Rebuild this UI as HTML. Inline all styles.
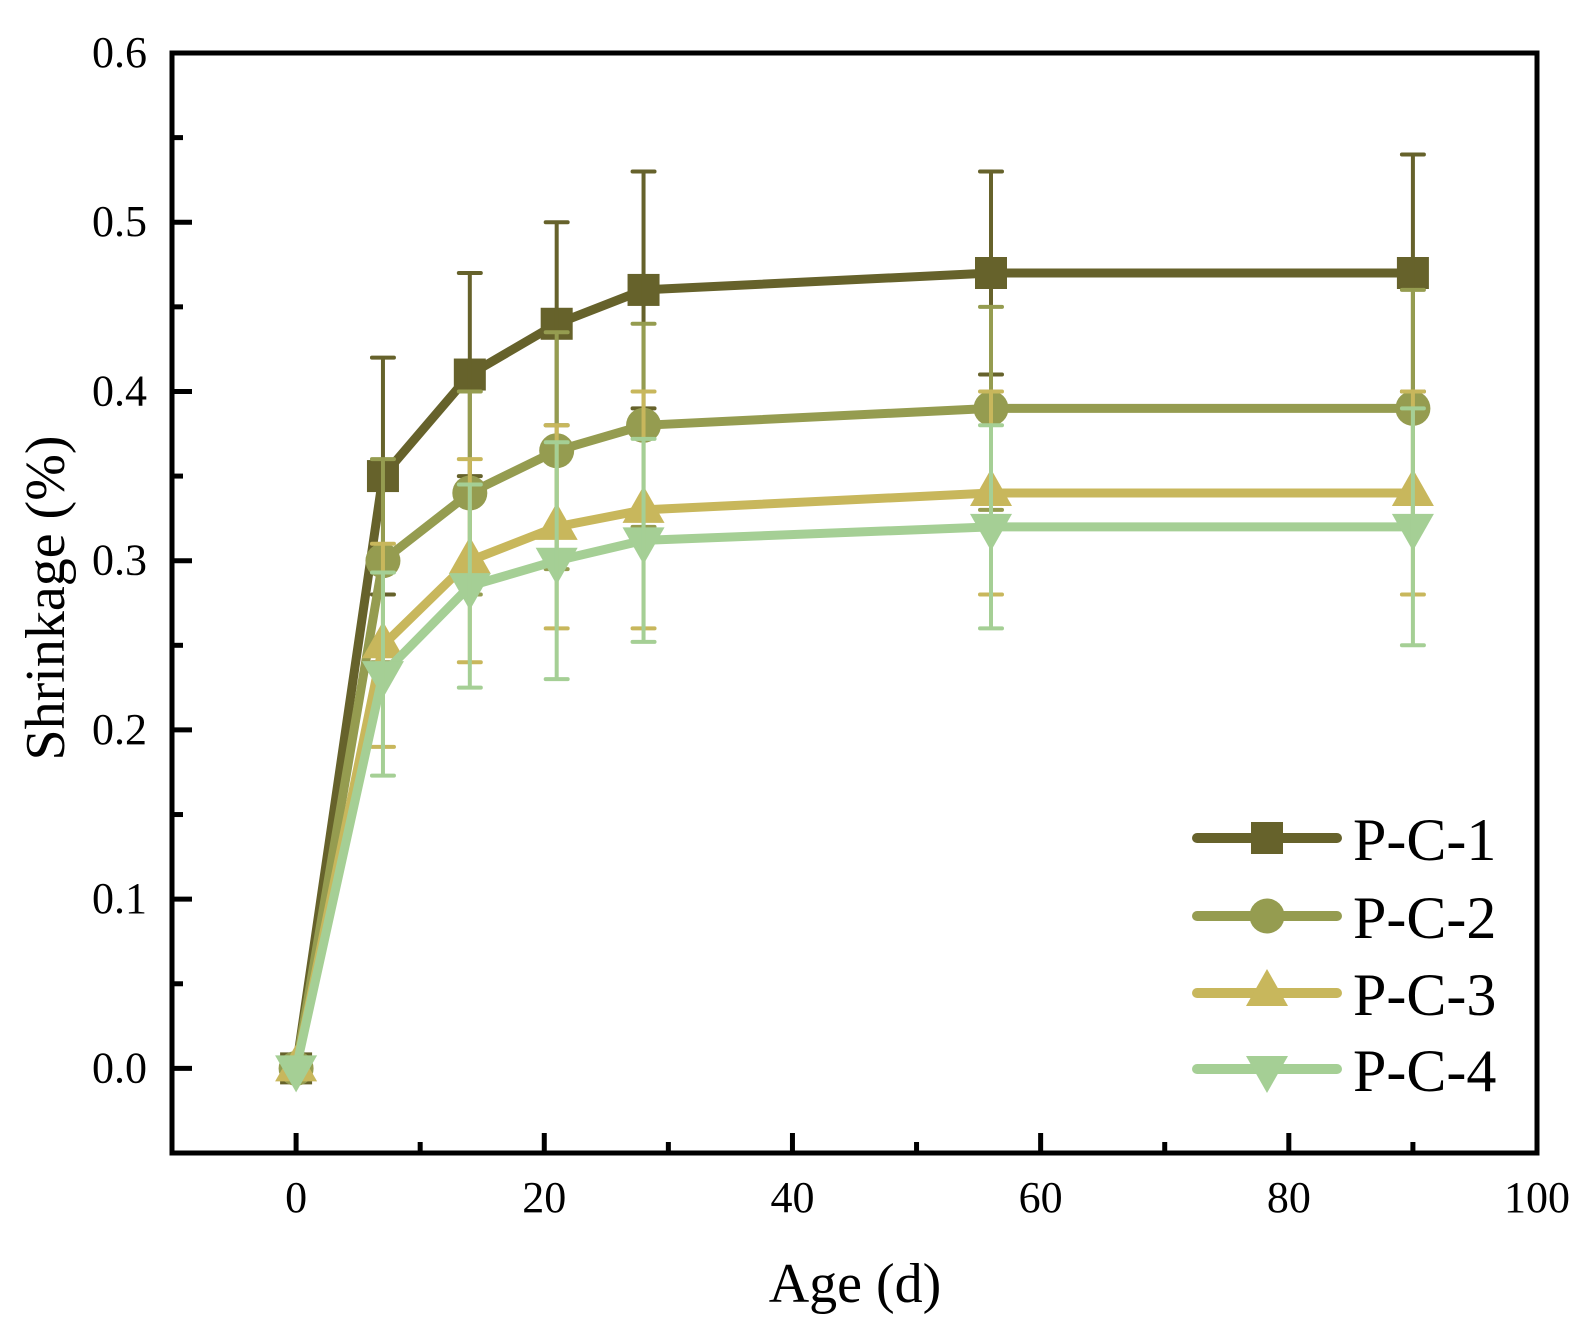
<!DOCTYPE html>
<html><head><meta charset="utf-8"><style>
body{margin:0;background:#fff}
svg text{font-family:"Liberation Serif",serif;fill:#000}
</style></head><body>
<svg id="chart" width="1593" height="1335" xmlns="http://www.w3.org/2000/svg">
</svg>
<script>
const ages=[0,7,14,21,28,56,90];
const pc1=[0,0.35,0.41,0.44,0.46,0.47,0.47];
const pc1Err=[0,0.07,0.06,0.06,0.07,0.06,0.07];
const pc2=[0,0.30,0.34,0.365,0.38,0.39,0.39];
const pc2Err=[0,0.06,0.06,0.07,0.06,0.06,0.07];
const pc3=[0,0.25,0.30,0.32,0.33,0.34,0.34];
const pc3Err=[0,0.06,0.06,0.06,0.07,0.06,0.06];
const pc4=[0,0.233,0.285,0.30,0.312,0.32,0.32];
const pc4Err=[0,0.06,0.06,0.07,0.06,0.06,0.07];
const xTicks=[0,20,40,60,80,100];
const yTicks=[0.0,0.1,0.2,0.3,0.4,0.5,0.6];
const seriesNames=["P-C-1","P-C-2","P-C-3","P-C-4"];

const svg=document.getElementById('chart');
const NS='http://www.w3.org/2000/svg';
const L=172,R=1537,T=53,B=1153;
const xMin=-10,xMax=100,yMin=-0.05,yMax=0.6;
const sx=v=>L+(v-xMin)/(xMax-xMin)*(R-L);
const sy=v=>B-(v-yMin)/(yMax-yMin)*(B-T);
function mk(tag,attrs,parent){const e=document.createElementNS(NS,tag);for(const k in attrs)e.setAttribute(k,attrs[k]);(parent||svg).appendChild(e);return e;}

const frame=mk('rect',{x:L,y:T,width:R-L,height:B-T,fill:'none',stroke:'#000','stroke-width':5});



xTicks.forEach(v=>{
 const t=mk('line',{x1:sx(v),x2:sx(v),y1:B,y2:B-20,stroke:'#000','stroke-width':5});
 
 
 if(v+10<100){
  const m=mk('line',{x1:sx(v+10),x2:sx(v+10),y1:B,y2:B-11,stroke:'#000','stroke-width':5});
  
  
 }
 const lb=mk('text',{x:sx(v),y:1212,'text-anchor':'middle','font-size':44});
 lb.textContent=v;
 
 
});
yTicks.forEach(v=>{
 const t=mk('line',{x1:L,x2:L+20,y1:sy(v),y2:sy(v),stroke:'#000','stroke-width':5});
 
 
 const m=mk('line',{x1:L,x2:L+11,y1:sy(v-0.05),y2:sy(v-0.05),stroke:'#000','stroke-width':5});
 
 
 const lb=mk('text',{x:147,y:sy(v)+14,'text-anchor':'end','font-size':44});
 lb.textContent=v.toFixed(1);
 
 
});
const xt=mk('text',{x:855,y:1302,'text-anchor':'middle','font-size':56});
xt.textContent='Age (d)';


const yt=mk('text',{x:0,y:0,'text-anchor':'middle','font-size':56,transform:`translate(64,598) rotate(-90)`});
yt.textContent='Shrinkage (%)';



const colors=['#66622b','#959c50','#c8b75c','#a5cf95'];
const shapes=['square','circle','up','down'];
function marker(shape,x,y,c,parent){
 if(shape==='square') return mk('rect',{x:x-16,y:y-16,width:32,height:32,fill:c},parent);
 if(shape==='circle') return mk('circle',{cx:x,cy:y,r:17.5,fill:c},parent);
 if(shape==='up') return mk('polygon',{points:`${x},${y-24} ${x-21},${y+13} ${x+21},${y+13}`,fill:c},parent);
 return mk('polygon',{points:`${x},${y+24} ${x-21},${y-13} ${x+21},${y-13}`,fill:c},parent);
}
const data=[[pc1,pc1Err],[pc2,pc2Err],[pc3,pc3Err],[pc4,pc4Err]];
[0,1,2,3].forEach(i=>{
 const [vals,errs]=data[i];const c=colors[i];
 const g=mk('g',{});
 
 
 const ln=mk('polyline',{points:ages.map((a,j)=>sx(a)+','+sy(vals[j])).join(' '),fill:'none',stroke:c,'stroke-width':9,'stroke-linejoin':'round'},g);
 
 
 ages.forEach((a,j)=>{
  const m=marker(shapes[i],sx(a),sy(vals[j]),c,g);
  
  
 });
 ages.forEach((a,j)=>{
  if(!errs[j])return;
  const x=sx(a);
  const e=mk('path',{d:`M${x},${sy(vals[j]-errs[j])}V${sy(vals[j]+errs[j])}M${x-11},${sy(vals[j]+errs[j])}h22M${x-11},${sy(vals[j]-errs[j])}h22`,stroke:c,'stroke-width':4,'stroke-linecap':'round',fill:'none'},g);
  
  
 });
});
const lg=mk('g',{});


const ly=[838,916,993,1069];
seriesNames.forEach((n,i)=>{
 const e=mk('g',{},lg);
 
 
 mk('line',{x1:1197,x2:1337,y1:ly[i],y2:ly[i],stroke:colors[i],'stroke-width':10,'stroke-linecap':'round'},e);
 marker(shapes[i],1267,ly[i],colors[i],e);
 const t=mk('text',{x:1353,y:ly[i]+22,'font-size':60},e);
 t.textContent=n;
});
</script>
</body></html>
